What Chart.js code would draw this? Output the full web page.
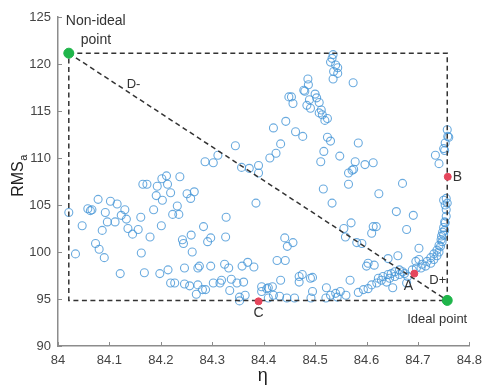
<!DOCTYPE html>
<html>
<head>
<meta charset="utf-8">
<script src="https://cdn.jsdelivr.net/npm/chart.js@4.4.1/dist/chart.umd.min.js"></script>
<style>
  html, body { margin: 0; padding: 0; background: #fff; }
</style>
</head>
<body>
<canvas id="paretoChart" width="489" height="385"></canvas>
<script>
const etaTicks = [84, 84.1, 84.2, 84.3, 84.4, 84.5, 84.6, 84.7, 84.8];
const rmsTicks = [90, 95, 100, 105, 110, 115, 120, 125];

// solutions of the front (eta, RMSa)
const etaValues = [
  84.021, 84.034, 84.047, 84.058, 84.063, 84.066, 84.078, 84.073, 84.080, 84.090,
  84.086, 84.092, 84.096, 84.102, 84.111, 84.115, 84.123, 84.130, 84.133, 84.136,
  84.145, 84.121, 84.156, 84.161, 84.162, 84.168, 84.179, 84.186, 84.191, 84.193,
  84.198, 84.201, 84.203, 84.165, 84.173, 84.213, 84.219, 84.214, 84.219, 84.227,
  84.223, 84.235, 84.232, 84.242, 84.244, 84.246, 84.246, 84.251, 84.256, 84.258,
  84.259, 84.261, 84.265, 84.269, 84.272, 84.272, 84.275, 84.281, 84.283, 84.291,
  84.297, 84.297, 84.315, 84.324, 84.326, 84.327, 84.332, 84.334, 84.348, 84.361,
  84.358, 84.353,
  84.345, 84.357, 84.286, 84.302, 84.311, 84.237, 84.211, 84.202,
  84.385, 84.372, 84.390, 84.390, 84.369, 84.381, 84.287, 84.302, 84.318, 84.337,
  84.353, 84.364, 84.396, 84.406, 84.396,
  84.511, 84.578, 84.597, 84.565, 84.572, 84.575, 84.565, 84.516, 84.533, 84.556,
  84.570, 84.559, 84.581, 84.591, 84.441, 84.457, 84.446, 84.426, 84.442, 84.600,
  84.433, 84.417, 84.409, 84.469, 84.475, 84.469, 84.491, 84.495, 84.568, 84.522,
  84.540, 84.549, 84.560, 84.584, 84.594, 84.603, 84.419, 84.431, 84.445, 84.460,
  84.495, 84.492, 84.521, 84.530, 84.543, 84.409,
  84.535, 84.533, 84.530, 84.540, 84.544, 84.536, 84.544, 84.535, 84.574, 84.486,
  84.487, 84.478, 84.480, 84.449, 84.454, 84.457, 84.500, 84.503, 84.489, 84.508,
  84.484, 84.491, 84.512, 84.508, 84.514, 84.524, 84.519, 84.419, 84.443, 84.462,
  84.476, 84.433, 84.424, 84.412, 84.524, 84.530, 84.517, 84.548, 84.584,
  84.613, 84.670, 84.624, 84.757, 84.758, 84.760, 84.753, 84.750, 84.752, 84.734,
  84.741, 84.755,
  84.658, 84.691, 84.678, 84.613, 84.619, 84.610, 84.603, 84.615, 84.642, 84.661,
  84.702, 84.696, 84.702, 84.610, 84.623, 84.632, 84.642, 84.648, 84.655, 84.664,
  84.670, 84.620, 84.629, 84.639, 84.645, 84.655, 84.664, 84.674, 84.680,
  84.706, 84.715, 84.725, 84.731, 84.737, 84.741, 84.744, 84.747, 84.750, 84.752,
  84.753, 84.755, 84.755, 84.757,
  84.689, 84.697, 84.708, 84.718, 84.725, 84.731, 84.737, 84.741, 84.745, 84.746,
  84.748, 84.750, 84.752,
  84.651, 84.678, 84.750, 84.753
];
const rmsValues = [
  104.2, 99.8, 102.8, 104.6, 104.4, 104.5, 105.6, 100.9, 100.3, 99.4,
  102.3, 104.2, 103.2, 105.4, 103.2, 105.1, 103.9, 104.5, 103.5, 102.5,
  101.9, 97.7, 102.4, 103.7, 99.9, 97.8, 101.6, 104.5, 106.0, 107.0,
  97.7, 102.8, 105.5, 107.2, 107.2, 107.2, 106.3, 98.1, 96.7, 96.7,
  104.0, 104.0, 104.9, 101.3, 100.9, 98.3, 96.6, 106.2, 96.4, 105.7,
  101.8, 100.0, 106.4, 95.5, 98.3, 96.5, 98.5, 96.0, 102.7, 101.1,
  98.5, 101.5, 96.7, 98.7, 101.6, 103.7, 98.3, 95.9, 96.7, 96.8,
  98.5, 94.8,
  111.3, 109.0, 109.6, 109.5, 110.3, 108.0, 108.1, 107.8,
  105.2, 108.9, 109.2, 108.4, 98.9, 98.4, 96.0, 96.7, 97.0, 97.1,
  95.2, 95.4, 96.3, 96.1, 95.8,
  109.6, 109.6, 109.3, 108.4, 108.7, 108.8, 107.2, 106.7, 105.2, 102.5,
  103.1, 101.6, 101.0, 100.9, 101.5, 101.0, 100.6, 99.1, 99.1, 98.5,
  97.0, 96.3, 96.2, 97.4, 97.6, 96.8, 97.2, 97.3, 97.0, 96.2,
  95.6, 95.8, 95.4, 95.7, 96.0, 96.1, 95.4, 95.3, 95.1, 95.1,
  95.8, 95.1, 95.1, 95.4, 95.2, 95.1,
  121.0, 120.6, 120.2, 119.9, 119.6, 119.2, 119.0, 118.4, 118.0, 118.4,
  117.8, 117.2, 117.1, 116.5, 116.5, 115.8, 116.8, 116.4, 116.2, 115.9,
  115.6, 115.3, 115.1, 114.8, 114.6, 114.2, 114.0, 113.2, 113.9, 112.8,
  112.3, 111.5, 110.5, 110.0, 112.2, 111.8, 110.7, 110.2, 111.6,
  109.5, 107.3, 106.2, 113.0, 112.3, 112.2, 111.6, 111.0, 110.8, 110.3,
  109.4, 105.7,
  104.3, 103.9, 102.4, 102.7, 102.7, 102.0, 98.8, 98.6, 99.3, 99.6,
  100.4, 99.0, 99.2, 96.5, 97.2, 97.4, 97.6, 97.7, 97.9, 98.1,
  97.9, 96.7, 97.0, 96.8, 97.2, 97.4, 97.6, 97.7, 97.4,
  98.3, 98.5, 98.8, 99.2, 99.6, 100.0, 100.6, 101.1, 101.8, 102.3,
  103.1, 103.8, 104.5, 105.2,
  98.1, 98.3, 98.7, 99.0, 99.4, 99.8, 100.2, 100.7, 101.3, 101.7,
  102.1, 102.6, 103.2,
  96.2, 96.7, 105.5, 105.0
];

// chosen solutions
const markedNames = ['A', 'B', 'C'];
const markedEta = [84.693, 84.758, 84.390];
const markedRms = [97.7, 108.0, 94.75];

// non-ideal and ideal points
const refNames = ['Non-ideal point', 'Ideal point'];
const refEta = [84.021, 84.757];
const refRms = [121.15, 94.85];

const font = '"Liberation Sans", Arial, sans-serif';
const axisGray = '#8c8c8c';

const nonIdeal = { x: refEta[0], y: refRms[0] };
const ideal = { x: refEta[1], y: refRms[1] };

const labelPlugin = {
    id: 'labels',
    afterDraw(chart) {
        const ctx = chart.ctx;
        const xs = chart.scales.x, ys = chart.scales.y;
        const area = chart.chartArea;
        ctx.save();

        // inward ticks
        ctx.strokeStyle = axisGray;
        ctx.lineWidth = 1;
        etaTicks.forEach(v => {
            const px = Math.round(xs.getPixelForValue(v)) + 0.5;
            ctx.beginPath();
            ctx.moveTo(px, area.bottom);
            ctx.lineTo(px, area.bottom - 4);
            ctx.stroke();
        });
        rmsTicks.forEach(v => {
            const py = Math.round(ys.getPixelForValue(v)) + 0.5;
            ctx.beginPath();
            ctx.moveTo(area.left, py);
            ctx.lineTo(area.left + 4, py);
            ctx.stroke();
        });

        ctx.fillStyle = '#333';
        ctx.textBaseline = 'middle';

        // point labels
        const nx = xs.getPixelForValue(nonIdeal.x), ny = ys.getPixelForValue(nonIdeal.y);
        const ix = xs.getPixelForValue(ideal.x), iy = ys.getPixelForValue(ideal.y);
        ctx.font = '14px ' + font;
        ctx.textAlign = 'left';
        ctx.fillText('Non-ideal', nx - 3, ny - 32);
        ctx.fillText('point', nx + 12, ny - 13);
        ctx.font = '13px ' + font;
        ctx.fillText('Ideal point', ix - 40, iy + 19);

        const mp = markedNames.map((n, i) => ({
            x: xs.getPixelForValue(markedEta[i]),
            y: ys.getPixelForValue(markedRms[i])
        }));
        ctx.font = '14px ' + font;
        ctx.textAlign = 'left';
        ctx.fillText('B', mp[1].x + 5, mp[1].y);
        ctx.textAlign = 'center';
        ctx.fillText('A', mp[0].x - 6, mp[0].y + 13);
        ctx.fillText('C', mp[2].x, mp[2].y + 12);

        ctx.font = '13px ' + font;
        ctx.fillText('D-', xs.getPixelForValue(84.147), ys.getPixelForValue(117.8));
        ctx.textAlign = 'right';
        ctx.fillText('D+', ix - 1, iy - 20);

        // axis titles
        ctx.fillStyle = '#222';
        ctx.font = '18px ' + font;
        ctx.textAlign = 'center';
        ctx.fillText('η', (area.left + area.right) / 2 - 1, 376);

        ctx.translate(19, 176);
        ctx.rotate(-Math.PI / 2);
        ctx.font = '16px ' + font;
        const w1 = ctx.measureText('RMS').width;
        ctx.font = '11px ' + font;
        const w2 = ctx.measureText('a').width;
        const start = -(w1 + w2) / 2;
        ctx.textAlign = 'left';
        ctx.font = '16px ' + font;
        ctx.fillText('RMS', start, 0);
        ctx.font = '11px ' + font;
        ctx.fillText('a', start + w1 + 0.5, 5);
        ctx.restore();
    }
};

const ctx = document.getElementById('paretoChart').getContext('2d');
const paretoChart = new Chart(ctx, {
    type: 'scatter',
    data: {
        datasets: [
            {
                label: 'reference',
                data: refEta.map((x, i) => ({ x: x, y: refRms[i] })),
                pointRadius: 5,
                pointBackgroundColor: '#1fb54a',
                pointBorderColor: '#1fb54a',
                order: 0
            },
            {
                label: 'marked',
                data: markedEta.map((x, i) => ({ x: x, y: markedRms[i] })),
                pointRadius: 3.5,
                pointBackgroundColor: '#e5465c',
                pointBorderColor: '#e5465c',
                order: 0
            },
            {
                label: 'box',
                data: [
                    { x: nonIdeal.x, y: nonIdeal.y },
                    { x: ideal.x, y: nonIdeal.y },
                    { x: ideal.x, y: ideal.y },
                    { x: nonIdeal.x, y: ideal.y },
                    { x: nonIdeal.x, y: nonIdeal.y }
                ],
                showLine: true,
                pointRadius: 0,
                borderColor: '#333',
                borderWidth: 1.5,
                borderDash: [5, 3.5],
                order: 1
            },
            {
                label: 'diagonal',
                data: [
                    { x: nonIdeal.x, y: nonIdeal.y },
                    { x: ideal.x, y: ideal.y }
                ],
                showLine: true,
                pointRadius: 0,
                borderColor: '#333',
                borderWidth: 1.5,
                borderDash: [5, 3.5],
                order: 1
            },
            {
                label: 'solutions',
                data: etaValues.map((x, i) => ({ x: x, y: rmsValues[i] })),
                pointRadius: 4,
                pointBorderWidth: 1.1,
                pointBackgroundColor: 'rgba(0,0,0,0)',
                pointBorderColor: 'rgba(70,150,215,0.8)',
                order: 2
            }
        ]
    },
    options: {
        responsive: false,
        animation: false,
        devicePixelRatio: 1,
        layout: { padding: { top: 17, right: 13, left: 0, bottom: 0 } },
        plugins: { legend: { display: false }, tooltip: { enabled: false } },
        scales: {
            x: {
                type: 'linear',
                min: 84,
                max: 84.8,
                afterBuildTicks: s => { s.ticks = etaTicks.map(v => ({ value: v })); },
                afterFit: s => { s.height = 39; },
                grid: { display: false, drawTicks: false },
                border: { display: true, color: axisGray, width: 1.5 },
                ticks: {
                    padding: 7,
                    color: '#444',
                    font: { family: font, size: 13 },
                    maxRotation: 0,
                    callback: v => String(Number(v.toFixed(1)))
                }
            },
            y: {
                type: 'linear',
                min: 90,
                max: 125,
                afterBuildTicks: s => { s.ticks = rmsTicks.map(v => ({ value: v })); },
                afterFit: s => { s.width = 58; },
                grid: { display: false, drawTicks: false },
                border: { display: true, color: axisGray, width: 1.5 },
                ticks: {
                    padding: 7,
                    color: '#444',
                    font: { family: font, size: 13 },
                    callback: v => String(v)
                }
            }
        }
    },
    plugins: [labelPlugin]
});
</script>
</body>
</html>
